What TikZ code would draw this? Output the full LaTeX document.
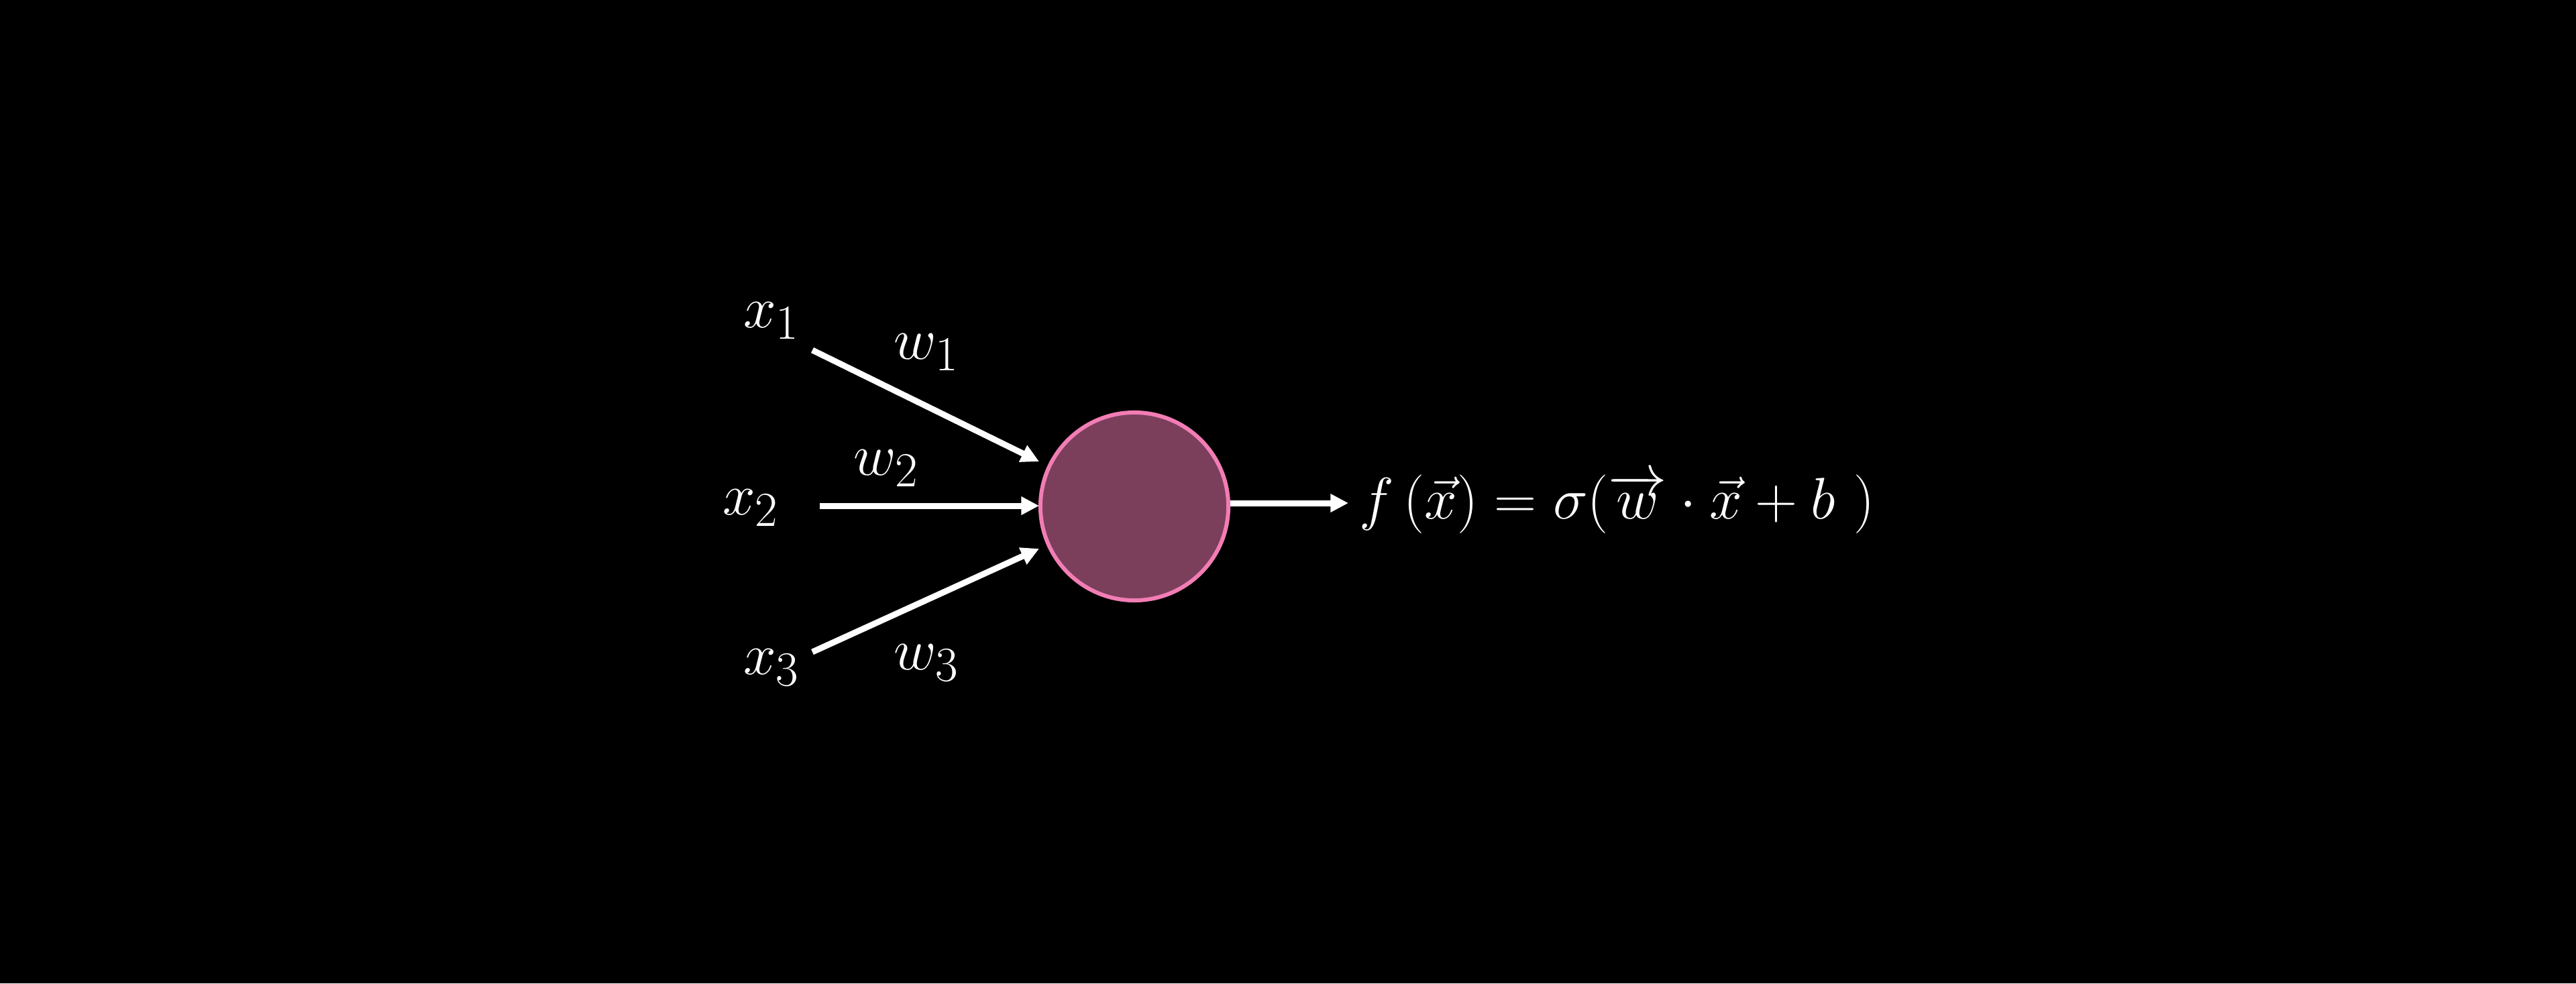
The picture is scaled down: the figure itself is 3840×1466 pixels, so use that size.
\documentclass[tikz,border=0pt]{standalone}
\usetikzlibrary{arrows.meta}
\definecolor{nodefill}{RGB}{123,63,92}
\definecolor{nodeedge}{RGB}{242,125,180}
\begin{document}
\begin{tikzpicture}[x=0.01cm,y=-0.01cm,
  lbl/.style={text=white,inner sep=0pt,font=\fontsize{28}{34}\selectfont},
  wire/.style={white,line width=2.56pt,-{Triangle[length=7.6pt,width=7.4pt]}},
  neuron/.style={circle,draw=nodeedge,fill=nodefill,line width=1.7pt,minimum size=2.8cm,inner sep=0pt}]
\fill[black] (0,0) rectangle (3840,1466);
\useasboundingbox (0,0) rectangle (3840,1466);
\node[neuron] (c) at (1691,755) {};
\node[lbl] (x1) at (1150,478) {$x_1$};
\node[lbl] (x2) at (1119,757) {$x_2$};
\node[lbl] (x3) at (1150,995) {$x_3$};
\node[lbl] (w1) at (1381,525) {$w_1$};
\node[lbl] (w2) at (1321,698) {$w_2$};
\node[lbl] (w3) at (1381,988) {$w_3$};
\coordinate (s1) at (1211,522);
\coordinate (s2) at (1222,754);
\coordinate (s3) at (1211,972);
\coordinate (t1) at (1549,688);
\coordinate (t2) at (1549,754);
\coordinate (t3) at (1549,818);
\draw[wire] (s1) -- (t1);
\draw[wire] (s2) -- (t2);
\draw[wire] (s3) -- (t3);
\node[text=white,inner sep=0pt,anchor=base west,font=\fontsize{26}{31}\selectfont] (f) at (2026,773) {$f\,(\vec{x}) = \sigma(\overrightarrow{w}\cdot\vec{x}+b\ )$};
\coordinate (o) at (2010,750);
\draw[wire] (c.east |- o) -- (o);
\end{tikzpicture}
\end{document}
